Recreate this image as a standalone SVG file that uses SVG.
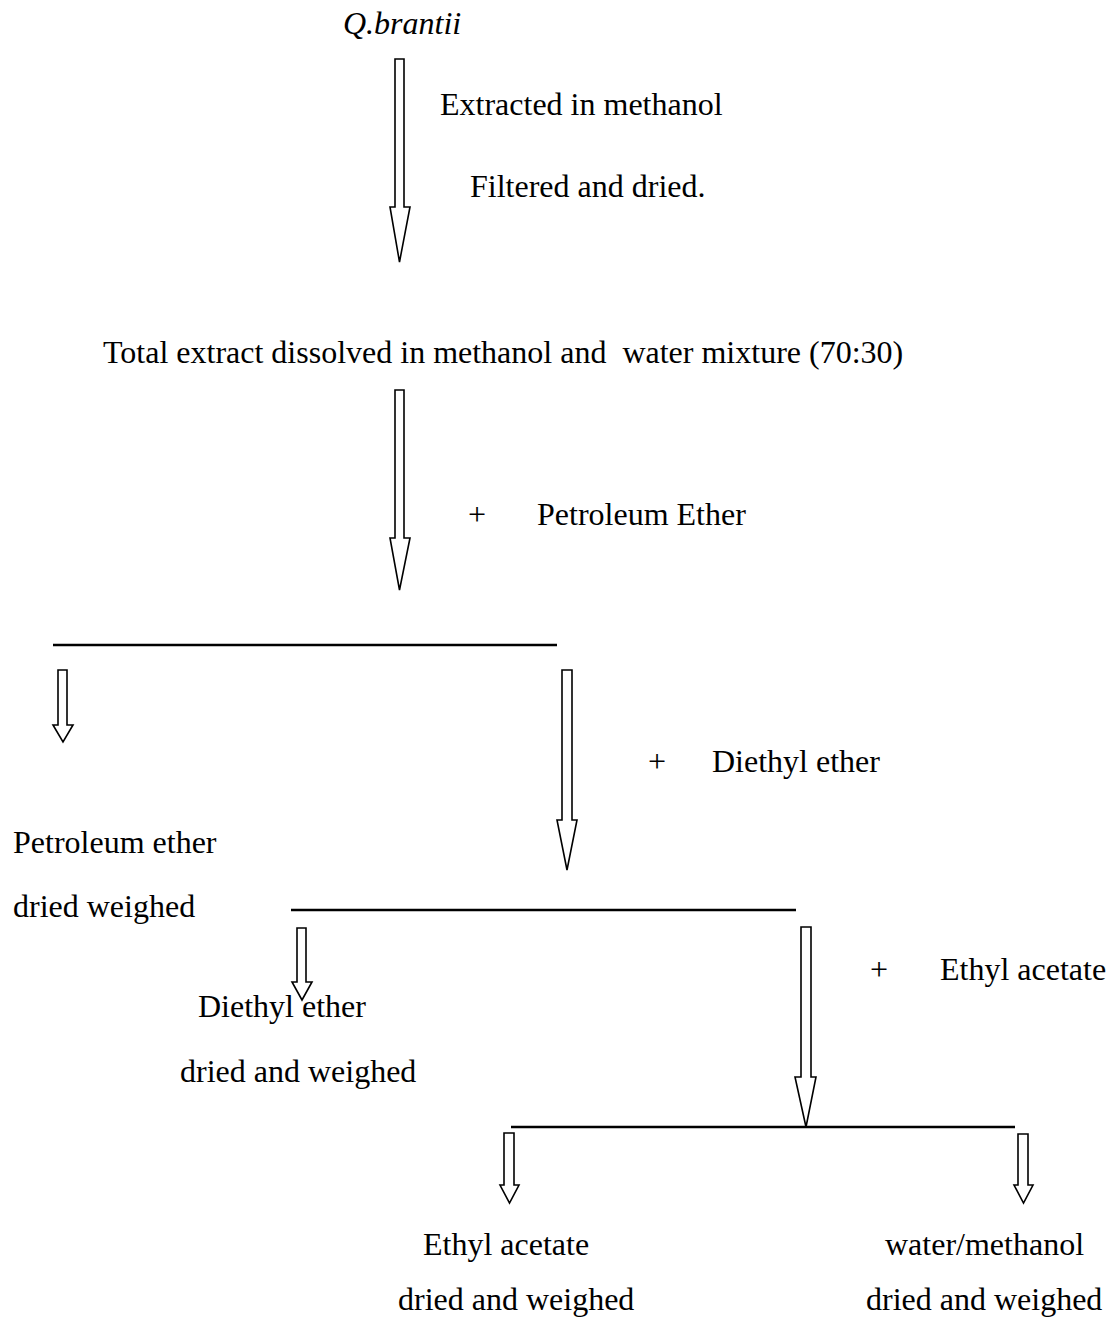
<svg xmlns="http://www.w3.org/2000/svg" width="1117" height="1320" viewBox="0 0 1117 1320">
  <style>
    text { font-family: "Liberation Serif", "Times New Roman", serif; font-size: 32px; fill: #000; white-space: pre; }
    .it { font-style: italic; }
    .arrow { fill: #fff; stroke: #000; stroke-width: 1.6; stroke-linejoin: miter; }
    .bar { stroke: #000; stroke-width: 2.5; fill: none; }
  </style>
  <rect width="1117" height="1320" fill="#fff"/>

  <!-- hollow block arrows and split bars -->
  <g id="connectors">
    <path class="arrow" d="M395,59 H404 V207 H410 L399.5,262 L390,207 H395 Z"/>
    <path class="arrow" d="M395,390 H404 V538 H410 L399.5,590 L390,538 H395 Z"/>
    <line class="bar" x1="53" y1="645" x2="557" y2="645"/>
    <path class="arrow" d="M58,670 H67 V725 H73 L63,742 L53,725 H58 Z"/>
    <path class="arrow" d="M562,670 H572 V820 H577 L567,870 L557,820 H562 Z"/>
    <line class="bar" x1="291" y1="910" x2="796" y2="910"/>
    <path class="arrow" d="M297,928 H306 V982 H312 L302,1000 L292,982 H297 Z"/>
    <path class="arrow" d="M801,927 H811 V1077 H816 L806,1127 L795,1077 H801 Z"/>
    <line class="bar" x1="511" y1="1127" x2="1015" y2="1127"/>
    <path class="arrow" d="M504,1133 H514 V1185 H519 L509.5,1203 L500,1185 H504 Z"/>
    <path class="arrow" d="M1018,1134 H1028 V1185 H1033 L1023.5,1203 L1014,1185 H1018 Z"/>
  </g>

  <g id="plant"><text class="it" x="343" y="34">Q.brantii</text></g>
  <g id="step-extract">
    <text x="440" y="115">Extracted in methanol</text>
    <text x="470" y="197">Filtered and dried.</text>
  </g>
  <g id="total-extract"><text x="103" y="363" xml:space="preserve">Total extract dissolved in methanol and  water mixture (70:30)</text></g>
  <g id="add-petroleum">
    <text x="468" y="525">+</text>
    <text x="537" y="525">Petroleum Ether</text>
  </g>
  <g id="petroleum-fraction">
    <text x="13" y="853">Petroleum ether</text>
    <text x="13" y="917">dried weighed</text>
  </g>
  <g id="add-diethyl">
    <text x="648" y="772">+</text>
    <text x="712" y="772">Diethyl ether</text>
  </g>
  <g id="diethyl-fraction">
    <text x="198" y="1017">Diethyl ether</text>
    <text x="180" y="1082">dried and weighed</text>
  </g>
  <g id="add-ethyl">
    <text x="870" y="980">+</text>
    <text x="940" y="980">Ethyl acetate</text>
  </g>
  <g id="ethyl-fraction">
    <text x="423" y="1255">Ethyl acetate</text>
    <text x="398" y="1310">dried and weighed</text>
  </g>
  <g id="water-fraction">
    <text x="885" y="1255">water/methanol</text>
    <text x="866" y="1310">dried and weighed</text>
  </g>
</svg>
